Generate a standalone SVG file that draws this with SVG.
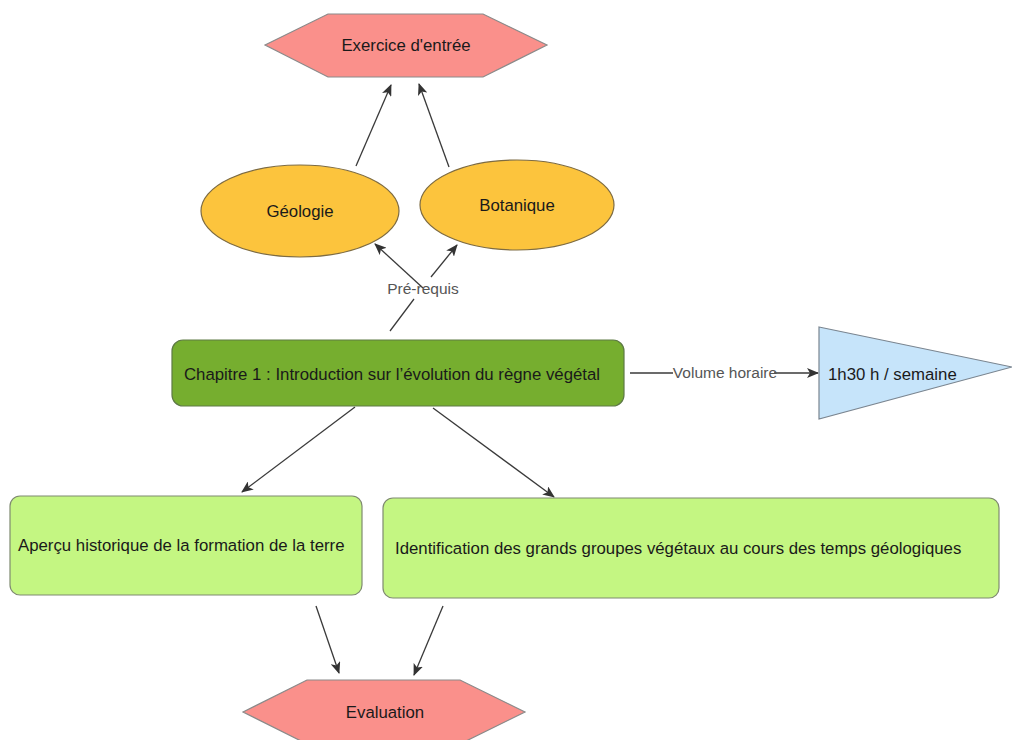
<svg xmlns="http://www.w3.org/2000/svg" width="1012" height="740" viewBox="0 0 1012 740">
<defs>
<marker id="ah" markerWidth="12" markerHeight="10" refX="11" refY="5" orient="auto" markerUnits="userSpaceOnUse">
<path d="M0,0 L12,5 L0,10 L3,5 Z" fill="#333"/>
</marker>
<style>
.t{font-family:"Liberation Sans",Arial,sans-serif;font-size:16.8px;fill:#1a1a1a}
.lb{font-family:"Liberation Sans",Arial,sans-serif;font-size:15.5px;fill:#555}
.c{stroke:#3a3a3a;stroke-width:1.3;fill:none}
.hex{fill:#fa908b;stroke:#8a8a8a;stroke-width:1.2}
.ell{fill:#fcc43d;stroke:#7d6b42;stroke-width:1.2}
.box{fill:#c4f682;stroke:#7f8a70;stroke-width:1.2}
</style>
</defs>
<rect width="1012" height="740" fill="#ffffff"/>
<g id="connectors">
<line class="c" x1="356" y1="166" x2="391" y2="85" marker-end="url(#ah)"/>
<line class="c" x1="449" y1="167" x2="419" y2="84" marker-end="url(#ah)"/>
<line class="c" x1="390" y1="331" x2="414" y2="299"/>
<line class="c" x1="423" y1="288" x2="375" y2="244" marker-end="url(#ah)"/>
<line class="c" x1="431" y1="277" x2="457" y2="245" marker-end="url(#ah)"/>
<line class="c" x1="630" y1="373" x2="673" y2="373"/>
<line class="c" x1="774" y1="373" x2="818" y2="373" marker-end="url(#ah)"/>
<line class="c" x1="355" y1="407" x2="242" y2="492" marker-end="url(#ah)"/>
<line class="c" x1="433" y1="408" x2="554" y2="497" marker-end="url(#ah)"/>
<line class="c" x1="316" y1="606" x2="339" y2="673" marker-end="url(#ah)"/>
<line class="c" x1="443" y1="606" x2="414" y2="675" marker-end="url(#ah)"/>
<text class="lb" x="423" y="294" text-anchor="middle">Pré-requis</text>
<text class="lb" x="725" y="378" text-anchor="middle">Volume horaire</text>
</g>
<g id="exercice">
<polygon class="hex" points="265,45 328,14 483,14 547,45 483,77 328,77"/>
<text class="t" x="406" y="51" text-anchor="middle">Exercice d'entrée</text>
</g>
<g id="geologie">
<ellipse class="ell" cx="300" cy="211" rx="99" ry="46"/>
<text class="t" x="300" y="217" text-anchor="middle">Géologie</text>
</g>
<g id="botanique">
<ellipse class="ell" cx="517" cy="205" rx="97" ry="45"/>
<text class="t" x="517" y="211" text-anchor="middle">Botanique</text>
</g>
<g id="chapitre">
<rect x="172" y="340" width="452" height="66" rx="11" fill="#76ae2f" stroke="#5e7a45" stroke-width="1.2"/>
<text class="t" x="184" y="380">Chapitre 1 : Introduction sur l’évolution du règne végétal</text>
</g>
<g id="volume">
<polygon points="819,327 1012,367 819,419" fill="#c6e4fa" stroke="#7a8590" stroke-width="1.2"/>
<text class="t" x="828" y="380">1h30 h / semaine</text>
</g>
<g id="apercu">
<rect class="box" x="10" y="496" width="352" height="99" rx="10"/>
<text class="t" x="18" y="551">Aperçu historique de la formation de la terre</text>
</g>
<g id="identification">
<rect class="box" x="383" y="498" width="616" height="100" rx="10"/>
<text class="t" x="395" y="554">Identification des grands groupes végétaux au cours des temps géologiques</text>
</g>
<g id="evaluation">
<polygon class="hex" points="243,712 307,680 460,680 525,712 460,744 307,744"/>
<text class="t" x="385" y="718" text-anchor="middle">Evaluation</text>
</g>
</svg>
